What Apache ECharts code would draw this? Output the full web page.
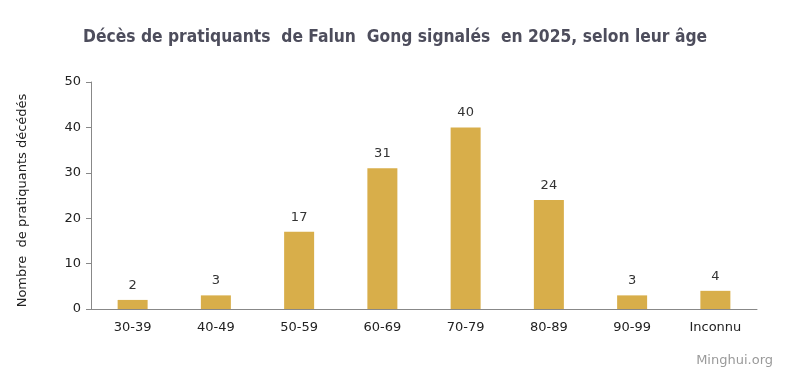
<!DOCTYPE html>
<html><head><meta charset="utf-8">
<script src="https://cdn.jsdelivr.net/npm/echarts@6/dist/echarts.min.js"></script>
<style>html,body{margin:0;padding:0;background:#fff}#c{width:801px;height:384px}</style>
</head><body><div id="c"></div>
<script>
const categories = ["30-39","40-49","50-59","60-69","70-79","80-89","90-99","Inconnu"];
const deaths = [2,3,17,31,40,24,3,4];
const yTicks = [0,10,20,30,40,50];
const titleText = "Décès de pratiquants  de Falun  Gong signalés  en 2025, selon leur âge";
const yName = "Nombre  de pratiquants décédés";
const watermark = "Minghui.org";

const chart = echarts.init(document.getElementById('c'), null, {renderer:'canvas'});
chart.setOption({
  animation:false,
  backgroundColor:'#fff',
  title:{text:titleText,left:78,top:24,textStyle:{fontFamily:'DejaVu Sans Condensed',fontWeight:'bold',fontSize:17.3,color:'#4d4d5c'}},
  graphic:[{type:'text',right:28,top:354,style:{text:watermark,fontFamily:'DejaVu Sans',fontSize:13,fill:'#9a9a9a'}}],
  grid:{left:91,right:44,top:82,bottom:75},
  xAxis:{type:'category',data:categories,
    axisLine:{lineStyle:{color:'#888',width:1}},axisTick:{show:false},
    axisLabel:{color:'#222',fontFamily:'DejaVu Sans',fontSize:13,margin:12}},
  yAxis:{type:'value',min:yTicks[0],max:yTicks[yTicks.length-1],interval:10,
    name:yName,nameLocation:'middle',nameGap:62,nameRotate:90,
    nameTextStyle:{color:'#222',fontFamily:'DejaVu Sans',fontSize:13,padding:[0,10,0,0]},
    axisLine:{show:true,lineStyle:{color:'#888'}},axisTick:{show:true,length:5,lineStyle:{color:'#888'}},
    splitLine:{show:false},
    axisLabel:{color:'#222',fontFamily:'DejaVu Sans',fontSize:13,margin:10}},
  series:[{type:'bar',data:deaths,barWidth:30,itemStyle:{color:'#d8ae4a'},
    label:{show:true,position:'top',distance:8,color:'#333',fontFamily:'DejaVu Sans',fontSize:13}}]
});
</script></body></html>
